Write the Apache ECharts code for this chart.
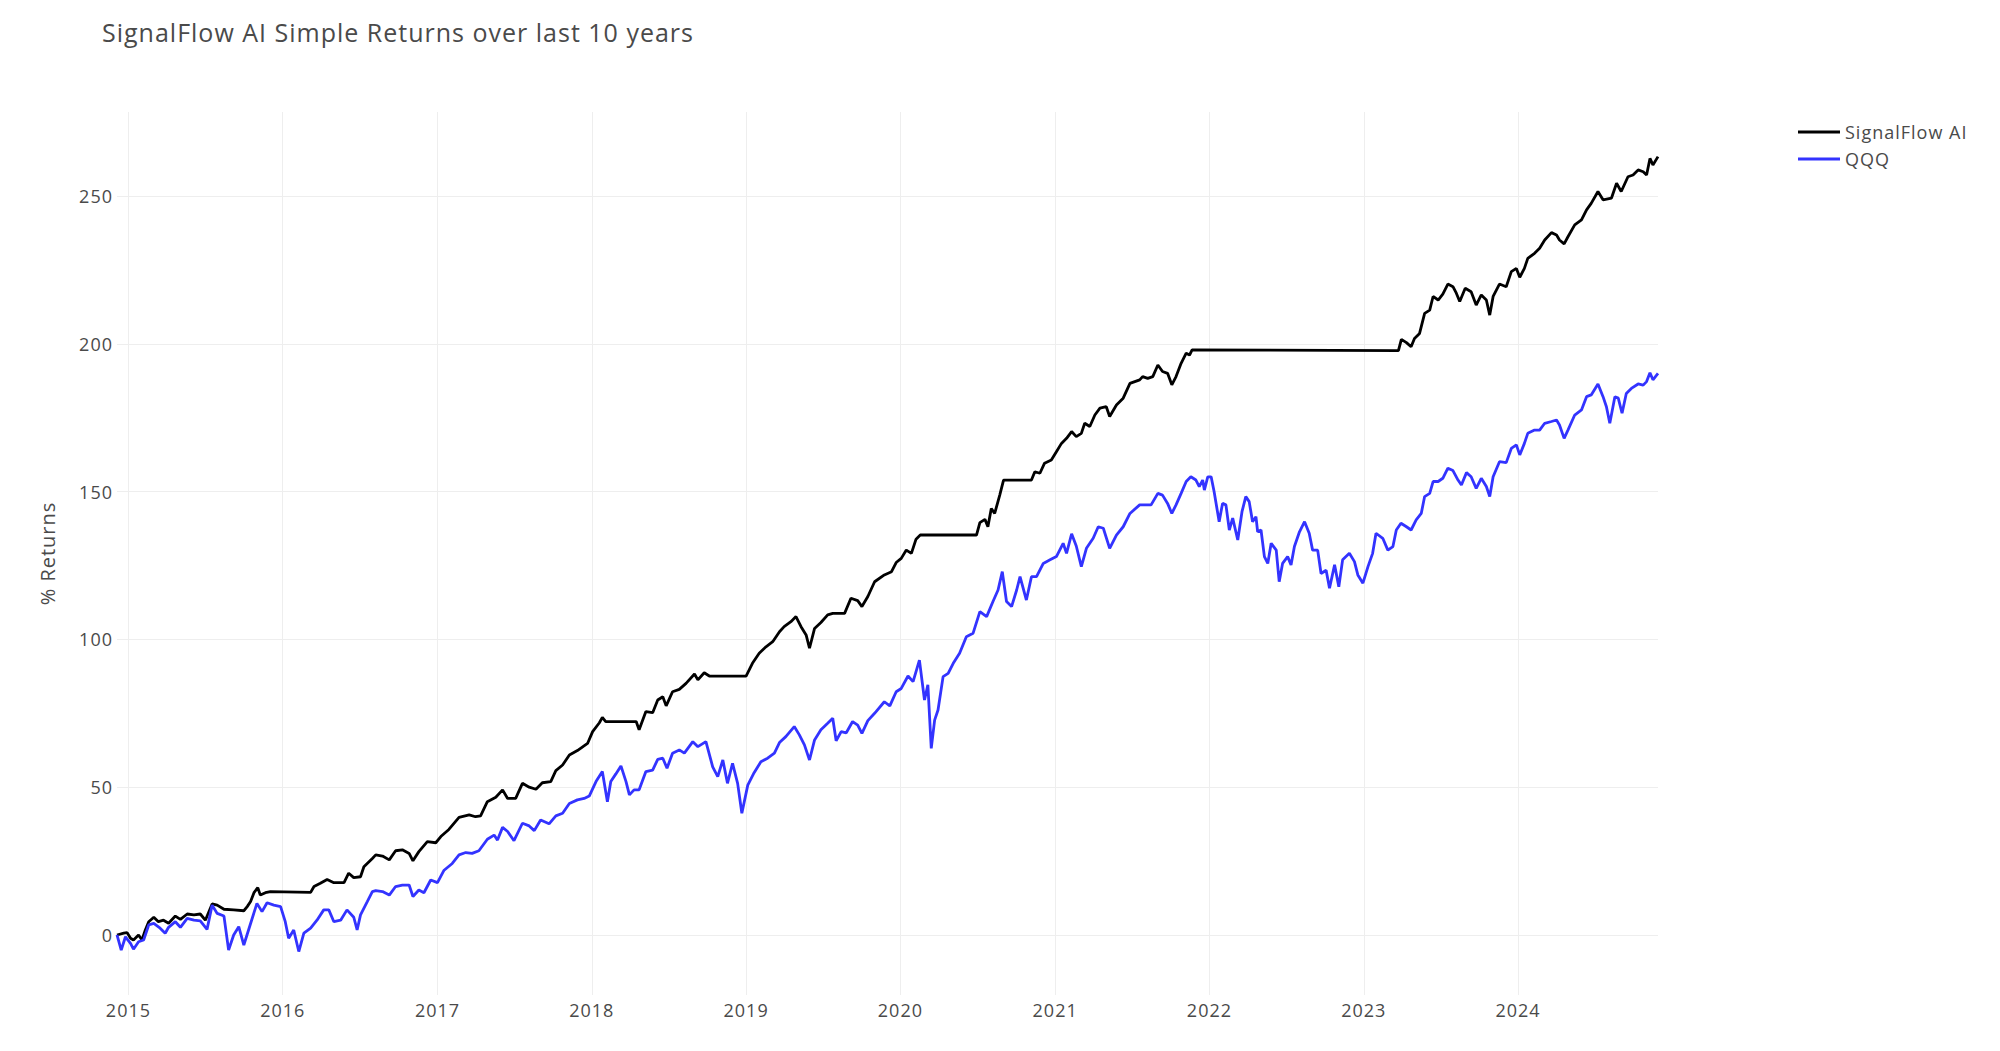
<!DOCTYPE html>
<html>
<head>
<meta charset="utf-8">
<script src="https://cdn.jsdelivr.net/npm/echarts@6/dist/echarts.min.js"></script>
<style>
html,body{margin:0;padding:0;background:#ffffff;}
#chart{width:2000px;height:1051px;}
#chart text{letter-spacing:1px;}
</style>
</head>
<body>
<div id="chart"></div>
<script>
const titleText = 'SignalFlow AI Simple Returns over last 10 years';
const yAxisTitle = '% Returns';
const seriesNames = ['SignalFlow AI', 'QQQ'];
const yTicks = [0, 50, 100, 150, 200, 250];

const sfDates = [
'2014-12-05','2014-12-21','2014-12-29','2015-01-06','2015-01-13','2015-01-25','2015-02-02','2015-02-10','2015-02-18','2015-03-02',
'2015-03-13','2015-03-25','2015-04-06','2015-04-22','2015-05-04','2015-05-20','2015-06-05','2015-06-20','2015-07-02','2015-07-18',
'2015-07-30','2015-08-15','2015-09-07','2015-10-01','2015-10-09','2015-10-17','2015-10-25','2015-11-03','2015-11-09','2015-11-21',
'2015-12-03','2016-03-07','2016-03-15','2016-03-30','2016-04-15','2016-05-01','2016-05-25','2016-06-05','2016-06-17','2016-07-03',
'2016-07-11','2016-07-31','2016-08-08','2016-08-24','2016-09-09','2016-09-24','2016-10-10','2016-10-26','2016-11-04','2016-11-18',
'2016-12-08','2016-12-28','2017-01-09','2017-01-28','2017-02-21','2017-03-17','2017-04-01','2017-04-13','2017-04-29','2017-05-19',
'2017-06-04','2017-06-16','2017-07-05','2017-07-21','2017-08-06','2017-08-22','2017-09-06','2017-09-26','2017-10-08','2017-10-24',
'2017-11-09','2017-11-28','2017-12-22','2018-01-03','2018-01-19','2018-01-26','2018-02-03','2018-03-31','2018-04-16','2018-04-23',
'2018-05-09','2018-05-25','2018-06-06','2018-06-18','2018-06-26','2018-07-11','2018-07-27','2018-08-12','2018-09-01','2018-09-09',
'2018-09-24','2018-10-06','2019-01-01','2019-01-16','2019-02-01','2019-02-17','2019-03-05','2019-03-21','2019-04-01','2019-04-17',
'2019-04-29','2019-05-11','2019-05-23','2019-05-31','2019-06-12','2019-06-27','2019-07-13','2019-07-25','2019-08-22','2019-09-06',
'2019-09-22','2019-10-02','2019-10-16','2019-11-01','2019-11-24','2019-12-11','2019-12-22','2020-01-03','2020-01-15','2020-01-27',
'2020-02-07','2020-02-17','2020-06-29','2020-07-07','2020-07-19','2020-07-26','2020-08-03','2020-08-11','2020-08-23','2020-09-01',
'2020-11-06','2020-11-14','2020-11-26','2020-12-07','2020-12-23','2021-01-04','2021-01-16','2021-01-28','2021-02-09','2021-02-20',
'2021-03-04','2021-03-12','2021-03-24','2021-04-05','2021-04-17','2021-05-02','2021-05-10','2021-05-26','2021-06-11','2021-06-27',
'2021-07-20','2021-07-27','2021-08-08','2021-08-20','2021-09-01','2021-09-12','2021-09-24','2021-10-04','2021-10-14','2021-10-26',
'2021-11-07','2021-11-15','2021-11-21','2023-03-24','2023-03-31','2023-04-12','2023-04-23','2023-05-01','2023-05-13','2023-05-25',
'2023-06-06','2023-06-14','2023-06-26','2023-07-07','2023-07-19','2023-07-31','2023-08-08','2023-08-16','2023-08-29','2023-09-12',
'2023-09-24','2023-10-06','2023-10-18','2023-10-26','2023-11-03','2023-11-18','2023-12-04','2023-12-16','2023-12-28','2024-01-05',
'2024-01-16','2024-01-24','2024-02-09','2024-02-21','2024-03-04','2024-03-20','2024-04-01','2024-04-08','2024-04-19','2024-04-28',
'2024-05-14','2024-05-30','2024-06-11','2024-06-22','2024-07-08','2024-07-20','2024-08-09','2024-08-21','2024-09-01','2024-09-17',
'2024-09-29','2024-10-11','2024-10-23','2024-10-31','2024-11-08','2024-11-15','2024-11-27'
];
const sfValues = [
0,0.6,0.8,-1.1,-1.7,0,-1.7,1.7,4.5,6,
4.5,5,4,6.4,5.3,7.1,6.8,7.1,5,10.5,
10.1,8.7,8.5,8.2,9.6,11.3,14.3,16,13.5,14.3,
14.7,14.4,16.4,17.5,18.8,17.7,17.7,20.9,19.4,19.7,
23.1,25.9,27.1,26.7,25.4,28.5,28.8,27.6,25.1,28.2,
31.6,31.2,33.3,35.7,39.8,40.6,40,40.3,45.1,46.6,
49.1,46.2,46.2,51.3,50,49.3,51.5,51.9,55.6,57.5,
60.9,62.4,64.8,68.8,71.8,73.6,72.2,72.2,72.2,69.4,
75.6,75.2,79.5,80.6,77.5,82.3,83.1,85.1,88.3,86.3,
88.7,87.6,87.6,91.9,95.3,97.5,99.2,102.6,104.3,106,
107.7,104.3,101.5,97,103.7,105.7,108.3,108.8,108.8,113.9,
113.1,111.1,114.5,119.5,121.8,122.9,126,127.4,130.2,129.1,
133.9,135.3,135.3,139.5,140.6,138.1,144.3,142.6,148.8,153.9,
153.9,156.7,156.2,159.6,160.7,163.5,166.3,168,170.3,168.6,
169.7,173.1,172,175.9,178.2,178.7,175.4,179.3,181.6,186.6,
187.8,188.9,188.3,188.9,192.8,190.6,190,186.1,188.9,193.4,
196.8,196.2,197.9,197.7,201.5,200.4,199,201.8,203.5,210.3,
211.4,216,214.8,216.8,220.2,219.3,217.1,214.3,218.8,217.6,
213.1,216.5,214.8,209.7,216,220.2,219.3,224.4,225.5,222.5,
225.5,228.9,230.6,232.3,235.1,237.6,236.8,235.1,233.8,236.2,
240.2,241.9,245.3,247.5,251.5,248.7,249.3,254.3,251.5,256.5,
257.1,258.8,258.2,257.1,262.7,260.5,263.3
];

const qqqDates = [
'2014-12-05','2014-12-15','2014-12-25','2015-01-06','2015-01-13','2015-01-25','2015-02-06','2015-02-18','2015-03-02','2015-03-17',
'2015-03-29','2015-04-06','2015-04-22','2015-05-04','2015-05-20','2015-06-05','2015-06-20','2015-07-06','2015-07-18','2015-07-30',
'2015-08-15','2015-08-26','2015-09-07','2015-09-19','2015-10-01','2015-10-17','2015-11-01','2015-11-13','2015-11-25','2015-12-11',
'2015-12-27','2016-01-07','2016-01-15','2016-01-27','2016-02-08','2016-02-20','2016-03-07','2016-03-22','2016-04-07','2016-04-19',
'2016-05-01','2016-05-17','2016-06-01','2016-06-17','2016-06-25','2016-07-03','2016-07-19','2016-07-31','2016-08-08','2016-08-24',
'2016-09-09','2016-09-24','2016-10-10','2016-10-26','2016-11-04','2016-11-18','2016-11-30','2016-12-16','2017-01-01','2017-01-16',
'2017-02-05','2017-02-21','2017-03-09','2017-03-24','2017-04-09','2017-04-29','2017-05-15','2017-05-23','2017-06-04','2017-06-16',
'2017-07-01','2017-07-21','2017-08-06','2017-08-18','2017-09-02','2017-09-22','2017-10-08','2017-10-24','2017-11-09','2017-11-28',
'2017-12-14','2017-12-26','2018-01-11','2018-01-26','2018-02-07','2018-02-15','2018-02-27','2018-03-11','2018-03-23','2018-03-31',
'2018-04-11','2018-04-23','2018-05-09','2018-05-25','2018-06-06','2018-06-18','2018-06-28','2018-07-11','2018-07-27','2018-08-08',
'2018-08-28','2018-09-09','2018-09-28','2018-10-14','2018-10-26','2018-11-07','2018-11-18','2018-11-30','2018-12-12','2018-12-22',
'2019-01-05','2019-01-20','2019-02-05','2019-02-21','2019-03-09','2019-03-21','2019-04-05','2019-04-25','2019-05-07','2019-05-19',
'2019-05-31','2019-06-12','2019-06-27','2019-07-13','2019-07-25','2019-08-02','2019-08-14','2019-08-26','2019-09-10','2019-09-22',
'2019-10-02','2019-10-16','2019-11-01','2019-11-24','2019-12-07','2019-12-22','2020-01-03','2020-01-19','2020-01-31','2020-02-15',
'2020-02-27','2020-03-06','2020-03-14','2020-03-22','2020-03-30','2020-04-11','2020-04-23','2020-05-05','2020-05-20','2020-06-05',
'2020-06-21','2020-07-07','2020-07-23','2020-08-07','2020-08-19','2020-08-29','2020-09-08','2020-09-20','2020-10-02','2020-10-10',
'2020-10-25','2020-11-06','2020-11-18','2020-12-04','2020-12-20','2021-01-04','2021-01-20','2021-01-28','2021-02-09','2021-02-20',
'2021-03-04','2021-03-16','2021-04-01','2021-04-13','2021-04-25','2021-05-10','2021-05-26','2021-06-11','2021-06-27','2021-07-20',
'2021-08-04','2021-08-16','2021-09-01','2021-09-12','2021-09-24','2021-10-04','2021-10-14','2021-10-26','2021-11-07','2021-11-18',
'2021-11-30','2021-12-08','2021-12-16','2021-12-20','2021-12-28','2022-01-05','2022-01-12','2022-01-24','2022-02-01','2022-02-09',
'2022-02-17','2022-02-25','2022-03-09','2022-03-19','2022-03-28','2022-04-05','2022-04-13','2022-04-21','2022-04-25','2022-05-03',
'2022-05-11','2022-05-19','2022-05-27','2022-06-08','2022-06-15','2022-06-23','2022-07-05','2022-07-13','2022-07-21','2022-08-02',
'2022-08-14','2022-08-25','2022-09-02','2022-09-14','2022-09-22','2022-10-04','2022-10-12','2022-10-24','2022-11-03','2022-11-12',
'2022-11-28','2022-12-10','2022-12-18','2022-12-30','2023-01-11','2023-01-22','2023-01-30','2023-02-15','2023-02-27','2023-03-11',
'2023-03-19','2023-03-30','2023-04-12','2023-04-23','2023-05-05','2023-05-17','2023-05-25','2023-06-06','2023-06-14','2023-06-26',
'2023-07-07','2023-07-19','2023-07-31','2023-08-12','2023-08-20','2023-09-01','2023-09-12','2023-09-24','2023-10-06','2023-10-18',
'2023-10-26','2023-11-03','2023-11-18','2023-12-04','2023-12-16','2023-12-28','2024-01-05','2024-01-16','2024-01-24','2024-02-09',
'2024-02-21','2024-03-04','2024-03-20','2024-04-01','2024-04-08','2024-04-19','2024-04-28','2024-05-14','2024-05-30','2024-06-11',
'2024-06-22','2024-07-08','2024-07-20','2024-07-28','2024-08-05','2024-08-17','2024-08-25','2024-09-03','2024-09-13','2024-09-25',
'2024-10-11','2024-10-23','2024-10-31','2024-11-08','2024-11-15','2024-11-27'
];
const qqqValues = [
0,-5.1,-0.6,-2.8,-4.8,-2.3,-1.7,3.4,3.9,2.3,
0.6,2.6,4.5,2.6,5.6,5,4.8,1.9,10.1,7.3,
6.4,-5.1,0,2.8,-3.4,3.9,10.7,7.9,10.9,10.1,
9.6,4.5,-1.1,1.7,-5.6,0.6,2.3,5,8.5,8.5,
4.5,5,8.5,6,1.7,6.8,11.3,14.7,15,14.7,
13.5,16.4,16.9,16.9,13,15.2,14.3,18.6,17.7,21.8,
24.2,27.1,27.9,27.6,28.5,32.4,33.8,32.1,36.4,35,
31.9,37.8,36.9,35.3,38.9,37.6,40.3,41.2,44.5,45.7,
46.2,47,51.9,55.3,45.1,51.9,54.5,57.2,51.9,47.4,
49.1,49.1,55.3,55.8,59.4,59.8,56.4,61.5,62.6,61.5,
65.4,63.7,65.4,56.9,53.6,59.2,51.3,58.1,51.3,41.2,
50.7,54.9,58.6,59.8,61.5,65.1,67.1,70.5,67.7,64.3,
59.2,66,69.4,71.6,73.3,65.7,68.8,68.4,72.2,71,
68.2,72.5,75,78.9,77.5,82.3,83.4,87.6,85.7,93,
79.5,84.6,63.1,72.7,76.1,87.4,88.5,91.9,95.3,100.9,
102.1,109.4,107.7,112.8,116.7,122.9,112.8,111.1,116.7,121.2,
113.3,121.2,121.2,125.7,126.9,128,132.5,129.1,135.7,131.6,
124.6,130.8,134.2,138.1,137.6,130.8,135.3,138.1,142.6,145.5,
145.5,145.5,149.4,148.8,146,142.6,145.5,149.4,153.4,155,
153.9,151.7,153.9,150.5,155,155,150,139.8,146,145.5,
137,141,133.6,143.2,148.3,146.6,139.8,141.5,136.4,137,
128,125.7,132.5,130.2,119.5,125.7,128,125.2,131.4,136.4,
139.8,135.9,130.2,130.2,122.3,123.4,117.3,125.2,117.8,126.9,
129.1,126.3,121.8,119,124.6,129.1,135.9,134.2,130.2,131.4,
137,139.3,138.1,137,140.4,142.6,148.3,149.4,153.4,153.4,
154.5,157.9,157.1,153.9,152.2,156.4,155,151.1,154.5,151.7,
148.3,155,160.1,159.8,164.6,165.8,162.4,166.3,169.7,170.8,
170.8,173.1,173.7,174.2,172.5,168,170.8,175.9,177.6,182.1,
182.7,186.4,182.1,178.7,173.1,182.1,181.6,176.5,183.2,184.9,
186.4,186,187.2,190.2,187.8,190
];

const FONT = 'Open Sans';
const TEXT = '#4a4a4a';
const GRID = '#eeeeee';

const chart = echarts.init(document.getElementById('chart'), null, {renderer: 'svg'});
chart.setOption({
  animation: false,
  backgroundColor: '#ffffff',
  title: {
    text: titleText,
    left: 102,
    top: 19,
    padding: 0,
    textStyle: {fontFamily: FONT, fontSize: 25, fontWeight: 'normal', color: TEXT}
  },
  legend: {
    orient: 'vertical',
    left: 1798,
    top: 123,
    padding: 0,
    itemWidth: 42,
    itemHeight: 3,
    itemGap: 9,
    icon: 'rect',
    data: seriesNames,
    textStyle: {fontFamily: FONT, fontSize: 18, color: TEXT}
  },
  grid: {left: 117, right: 342, top: 112, bottom: 56, containLabel: false},
  xAxis: {
    type: 'time',
    min: sfDates[0],
    max: sfDates[sfDates.length - 1],
    splitNumber: 10,
    minInterval: 365 * 24 * 3600 * 1000,
    maxInterval: 366 * 24 * 3600 * 1000,
    axisLine: {show: false},
    axisTick: {show: false},
    axisLabel: {
      formatter: '{yyyy}',
      fontFamily: FONT, fontSize: 18, color: TEXT, margin: 6,
      showMinLabel: false, showMaxLabel: false
    },
    splitLine: {show: true, showMinLine: false, showMaxLine: false, lineStyle: {color: GRID, width: 1}}
  },
  yAxis: {
    type: 'value',
    min: -20.3,
    max: 278.4,
    name: yAxisTitle,
    nameLocation: 'middle',
    nameGap: 60,
    nameTextStyle: {fontFamily: FONT, fontSize: 20, color: TEXT},
    axisLine: {show: false},
    axisTick: {show: false},
    axisLabel: {
      fontFamily: FONT, fontSize: 18, color: TEXT, margin: 4,
      showMinLabel: false, showMaxLabel: false,
      formatter: v => (yTicks.indexOf(v) >= 0 ? String(v) : '')
    },
    splitLine: {show: true, showMinLine: false, showMaxLine: false, lineStyle: {color: GRID, width: 1}}
  },
  series: [
    {
      name: seriesNames[0],
      type: 'line',
      symbol: 'none',
      showSymbol: false,
      data: sfDates.map((d, i) => [d, sfValues[i]]),
      lineStyle: {color: '#000000', width: 2.8},
      itemStyle: {color: '#000000'}
    },
    {
      name: seriesNames[1],
      type: 'line',
      symbol: 'none',
      showSymbol: false,
      data: qqqDates.map((d, i) => [d, qqqValues[i]]),
      lineStyle: {color: '#3333ff', width: 2.8},
      itemStyle: {color: '#3333ff'}
    }
  ]
});
</script>
</body>
</html>
